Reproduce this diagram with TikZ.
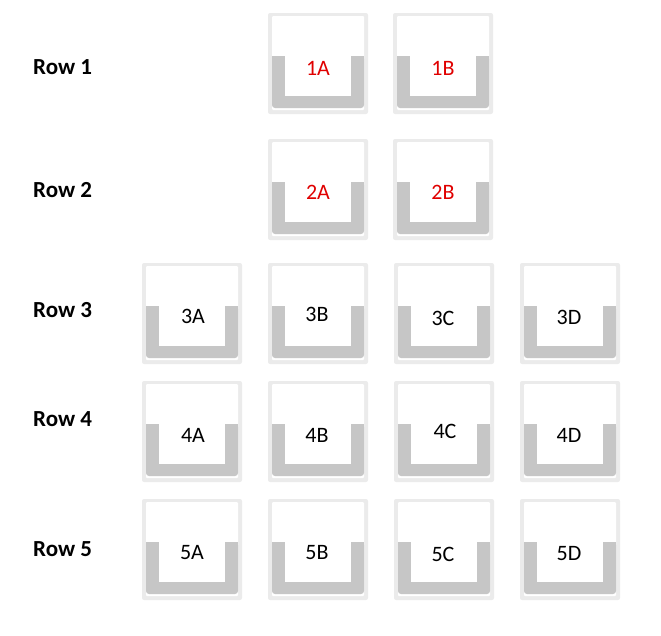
\documentclass[tikz,border=0pt]{standalone}
\usepackage{fontspec}
\setmainfont{Carlito}
\definecolor{frameC}{HTML}{EBEBEB}
\definecolor{uC}{HTML}{C6C6C6}
\definecolor{redC}{HTML}{E00000}
\begin{document}
\begin{tikzpicture}[x=1pt,y=-1pt,
  seat/.pic={
    \fill[frameC,rounded corners=2pt] (0,0) rectangle (100,101);
    \fill[white,rounded corners=1pt] (4,3) rectangle (96,97);
    \fill[uC,rounded corners=3pt] (4,43) -- (96,43) -- (96,95) -- (4,95) -- cycle;
    \fill[uC] (4,43) rectangle (96,60);
    \fill[white] (17,43) rectangle (83,83);
  },
  seatlbl/.style={font=\fontsize{22}{26}\selectfont, inner sep=0pt},
  redlbl/.style={seatlbl, text=redC},
  rowlbl/.style={font=\fontsize{23}{27}\selectfont\bfseries, inner sep=0pt, anchor=west}]
\useasboundingbox (0,0) rectangle (661,635);
% seats
\pic at (268,13) {seat}; \pic at (393,13) {seat};
\pic at (268,139) {seat}; \pic at (393,139) {seat};
\foreach \y in {263,381,499}{
  \foreach \x in {142,268,394,520}{
    \pic at (\x,\y) {seat};
  }
}
% labels
\node[redlbl] (s1A) at (318,68) {1A};
\node[redlbl] (s1B) at (443,68) {1B};
\node[redlbl] (s2A) at (318,192) {2A};
\node[redlbl] (s2B) at (443,192) {2B};
\node[seatlbl] (s3A) at (193,316) {3A};
\node[seatlbl] (s3B) at (317,314) {3B};
\node[seatlbl] (s3C) at (443,318) {3C};
\node[seatlbl] (s3D) at (569,317) {3D};
\node[seatlbl] (s4A) at (193,435) {4A};
\node[seatlbl] (s4B) at (317,435) {4B};
\node[seatlbl] (s4C) at (445,431) {4C};
\node[seatlbl] (s4D) at (569,435) {4D};
\node[seatlbl] (s5A) at (192,553) {5A};
\node[seatlbl] (s5B) at (317,553) {5B};
\node[seatlbl] (s5C) at (443,554) {5C};
\node[seatlbl] (s5D) at (569,554) {5D};
% row labels
\node[rowlbl] (r1) at (33,67) {Row 1};
\node[rowlbl] (r2) at (33,190) {Row 2};
\node[rowlbl] (r3) at (33,310) {Row 3};
\node[rowlbl] (r4) at (33,419) {Row 4};
\node[rowlbl] (r5) at (33,549) {Row 5};
\end{tikzpicture}
\end{document}
